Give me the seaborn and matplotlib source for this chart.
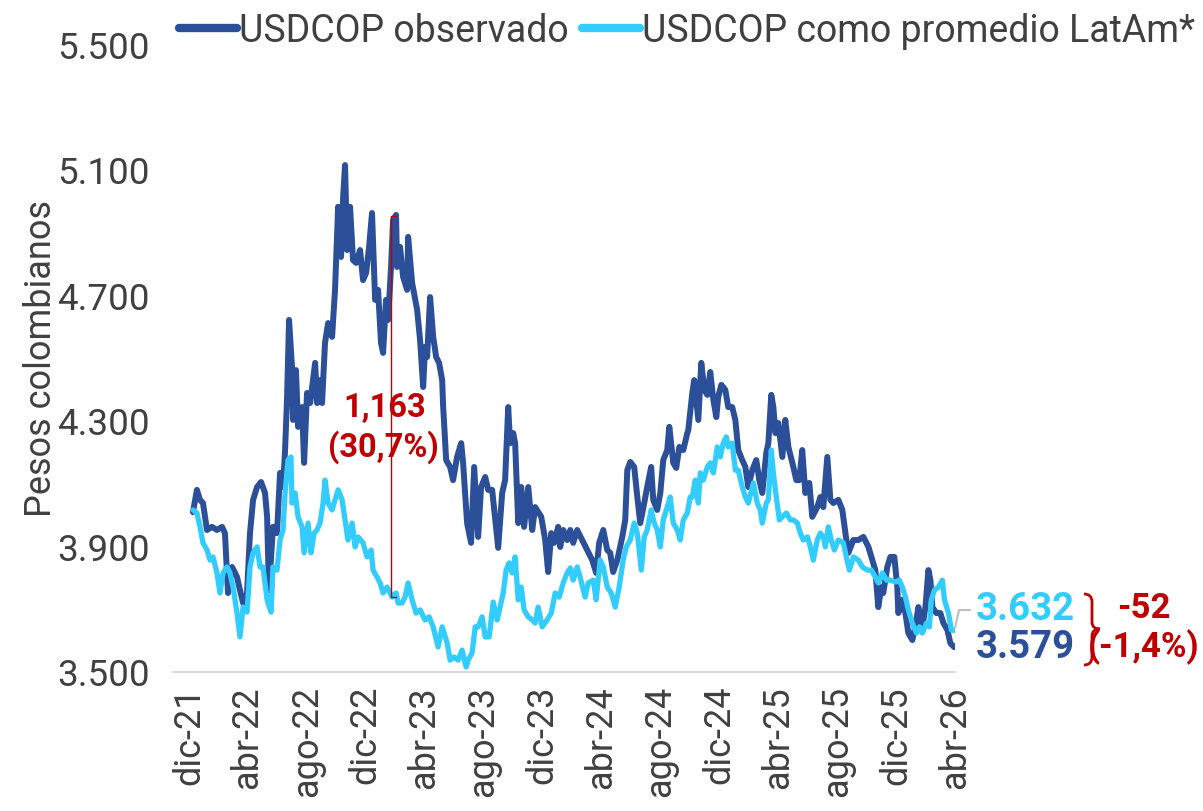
import matplotlib
matplotlib.use("Agg")
import matplotlib.pyplot as plt
from matplotlib.path import Path as MPath
from matplotlib.patches import PathPatch
import seaborn as sns
import numpy as np
import pandas as pd

#%% data (months since 1-dic-2021, COP per USD)
meses_obs = [0.27, 0.54, 0.75, 0.95, 1.22, 1.56, 1.90, 2.24, 2.44, 2.65, 2.92, 3.26, 3.46, 3.67, 3.94,
             4.14, 4.35, 4.62, 4.89, 5.16, 5.30, 5.43, 5.70, 5.97, 6.18, 6.38, 6.52, 6.65, 6.79, 6.99,
             7.06, 7.26, 7.40, 7.67, 7.81, 8.01, 8.22, 8.56, 8.69, 8.89, 9.03, 9.23, 9.44, 9.71, 9.91,
             10.12, 10.32, 10.46, 10.59, 10.73, 10.93, 11.13, 11.34, 11.61, 11.81, 12.02, 12.22, 12.42,
             12.63, 12.83, 13.03, 13.17, 13.37, 13.51, 13.71, 13.85, 14.05, 14.12, 14.32, 14.53, 14.80,
             14.87, 15.14, 15.48, 15.68, 15.89, 16.02, 16.16, 16.36, 16.57, 16.77, 16.97, 17.18, 17.24,
             17.45, 17.72, 17.92, 18.19, 18.47, 18.60, 18.87, 19.14, 19.35, 19.62, 19.82, 20.10, 20.30,
             20.57, 20.98, 21.25, 21.45, 21.66, 21.79, 22.00, 22.13, 22.34, 22.54, 22.74, 23.02, 23.29,
             23.49, 23.90, 24.17, 24.37, 24.58, 24.78, 25.05, 25.19, 25.39, 25.66, 25.87, 26.07, 26.34,
             26.68, 27.02, 27.36, 27.63, 27.83, 28.11, 28.38, 28.58, 28.78, 29.06, 29.40, 29.60, 29.74,
             29.94, 30.21, 30.42, 30.62, 30.89, 31.09, 31.36, 31.50, 31.77, 31.98, 32.18, 32.45, 32.59,
             32.86, 33.06, 33.27, 33.54, 33.81, 33.88, 34.15, 34.28, 34.56, 34.76, 34.97, 35.17, 35.37,
             35.58, 35.78, 35.91, 36.12, 36.39, 36.59, 36.86, 37.07, 37.27, 37.54, 37.75, 37.95, 38.22,
             38.49, 38.70, 38.90, 39.17, 39.31, 39.51, 39.65, 39.79, 39.99, 40.26, 40.46, 40.67, 40.94,
             41.21, 41.41, 41.61, 41.82, 42.09, 42.29, 42.63, 42.84, 43.04, 43.31, 43.52, 43.72, 44.06,
             44.33, 44.54, 44.74, 45.08, 45.42, 45.76, 46.10, 46.37, 46.57, 46.77, 46.98, 47.11, 47.38,
             47.59, 47.86, 48.06, 48.13, 48.40, 48.61, 48.81, 49.08, 49.36, 49.49, 49.76, 49.97, 50.17,
             50.31, 50.44, 50.71, 50.98, 51.19, 51.46, 51.66, 51.93]
usdcop_obs = [4010, 4081, 4049, 4039, 3953, 3963, 3953, 3963, 3943, 3752, 3835, 3803, 3761, 3720, 3752,
              3943, 4049, 4090, 4106, 4071, 3995, 3761, 3963, 3943, 4135, 4090, 4208, 4368, 4623, 4473,
              4304, 4463, 4282, 4345, 4167, 4390, 4358, 4486, 4358, 4431, 4358, 4550, 4613, 4569, 4719,
              4984, 4824, 5016, 5117, 4846, 4984, 4814, 4805, 4846, 4750, 4773, 4856, 4964,
              4687, 4719, 4550, 4518, 4687, 4623, 4792, 4942, 4958, 4792, 4856, 4760, 4719,
              4888, 4741, 4655, 4559, 4409, 4537, 4505, 4696, 4569, 4505, 4486, 4431, 4352,
              4176, 4154, 4112, 4186, 4230, 4167, 3975, 3912, 4154, 3931, 4090, 4122, 4081,
              4081, 3896, 4071, 4112, 4345, 4230, 4262, 4230, 3975, 4090, 3963, 4090, 3953,
              4026, 3995, 3921, 3819, 3943, 3912, 3963, 3899, 3953, 3921, 3953, 3912, 3953,
              3921, 3889, 3857, 3816, 3912, 3953, 3889, 3880, 3819, 3857, 3931, 3985, 4144,
              4170, 4154, 4058, 3975, 4039, 4090, 4154, 4049, 4017, 4071, 4176, 4208, 4282,
              4167, 4151, 4218, 4208, 4262, 4272, 4390, 4431, 4304, 4486, 4400, 4384, 4457,
              4368, 4313, 4377, 4416, 4400, 4345, 4345, 4304, 4208, 4176, 4154, 4090, 4144,
              4176, 4112, 4071, 4199, 4230, 4384, 4345, 4262, 4294, 4186, 4304, 4218, 4167,
              4112, 4112, 4208, 4071, 4103, 3995, 4026, 4058, 4026, 4186, 4049, 4039, 4049,
              4017, 3943, 3880, 3921, 3921, 3931, 3899, 3857, 3825, 3707, 3771, 3752, 3835,
              3867, 3867, 3771, 3688, 3730, 3688, 3624, 3602, 3666, 3707, 3644, 3707, 3825,
              3793, 3707, 3688, 3688, 3656, 3634, 3592, 3579]

meses_latam = [0.27, 0.54, 0.75, 0.95, 1.22, 1.43, 1.63, 1.90, 2.10, 2.31, 2.58, 2.78, 2.99, 3.26, 3.46,
               3.67, 3.94, 4.14, 4.35, 4.62, 4.82, 5.02, 5.30, 5.57, 5.70, 5.97, 6.18, 6.38, 6.52, 6.72,
               6.92, 6.99, 7.20, 7.40, 7.67, 7.81, 8.08, 8.28, 8.49, 8.69, 8.89, 9.10, 9.23, 9.44, 9.71,
               9.91, 10.12, 10.39, 10.59, 10.79, 11.07, 11.27, 11.47, 11.81, 12.08, 12.36, 12.49, 12.76,
               12.97, 13.17, 13.44, 13.78, 14.05, 14.19, 14.46, 14.66, 14.87, 15.14, 15.41, 15.68, 16.02,
               16.29, 16.57, 16.90, 17.18, 17.52, 17.72, 17.99, 18.26, 18.53, 18.81, 18.94, 19.21, 19.42,
               19.62, 19.89, 20.10, 20.37, 20.64, 20.91, 21.11, 21.32, 21.52, 21.72, 21.93, 22.13, 22.34,
               22.54, 22.74, 23.02, 23.29, 23.49, 23.69, 23.97, 24.30, 24.58, 24.85, 25.12, 25.39, 25.66,
               25.87, 26.07, 26.34, 26.54, 26.88, 27.09, 27.43, 27.63, 27.90, 28.11, 28.38, 28.65, 28.92,
               29.19, 29.46, 29.67, 29.94, 30.21, 30.42, 30.69, 30.89, 31.09, 31.36, 31.57, 31.77, 31.98,
               32.18, 32.45, 32.65, 32.86, 33.13, 33.33, 33.54, 33.81, 34.01, 34.15, 34.35, 34.56, 34.69,
               34.90, 35.17, 35.37, 35.58, 35.85, 36.05, 36.25, 36.46, 36.59, 36.86, 37.07, 37.27, 37.54,
               37.75, 37.95, 38.29, 38.56, 38.76, 38.90, 39.17, 39.31, 39.51, 39.65, 39.85, 40.06, 40.26,
               40.53, 40.80, 41.01, 41.28, 41.48, 41.68, 41.96, 42.16, 42.36, 42.63, 42.84, 43.04, 43.18,
               43.38, 43.58, 43.79, 44.06, 44.40, 44.60, 44.81, 45.08, 45.42, 45.69, 46.03, 46.30, 46.57,
               46.77, 47.05, 47.32, 47.59, 47.93, 48.20, 48.40, 48.61, 48.81, 49.08, 49.36, 49.56, 49.76,
               50.04, 50.24, 50.37, 50.58, 50.85, 51.12, 51.26, 51.53, 51.73, 52.00]
usdcop_latam = [4017, 4007, 3963, 3912, 3889, 3857, 3867, 3816, 3752, 3816, 3835, 3816, 3771, 3688, 3612,
                3707, 3691, 3835, 3880, 3899, 3835, 3835, 3730, 3691, 3835, 3825, 3921, 3953, 4071, 4176,
                4186, 4039, 4071, 3995, 3963, 3880, 3975, 3880, 3943, 3953, 3975, 4039, 4112, 4039, 4017,
                4049, 4081, 4049, 3985, 3921, 3975, 3899, 3931, 3912, 3867, 3889, 3825, 3803,
                3784, 3752, 3771, 3739, 3752, 3720, 3720, 3739, 3784, 3730, 3688, 3698, 3666,
                3676, 3644, 3580, 3644, 3592, 3538, 3548, 3538, 3570, 3516, 3538, 3561, 3644,
                3644, 3676, 3612, 3612, 3723, 3666, 3707, 3752, 3825, 3848, 3816, 3867, 3730,
                3771, 3698, 3676, 3666, 3656, 3707, 3644, 3666, 3688, 3752, 3739, 3784, 3816,
                3832, 3793, 3835, 3803, 3739, 3784, 3793, 3730, 3857, 3835, 3771, 3752, 3707,
                3771, 3857, 3899, 3921, 3975, 3943, 3825, 3931, 3953, 4017, 3975, 3953, 3899,
                3985, 4026, 4058, 3975, 3953, 3921, 3985, 4007, 4058, 4058, 4112, 4039, 4135,
                4112, 4154, 4167, 4135, 4218, 4186, 4230, 4250, 4218, 4230, 4144, 4144, 4090,
                4058, 4039, 4103, 4039, 4017, 3975, 4039, 4049, 4208, 4135, 4058, 3985, 3995,
                4007, 3985, 3985, 3975, 3943, 3921, 3931, 3899, 3857, 3921, 3943, 3931, 3899,
                3963, 3921, 3889, 3921, 3912, 3867, 3825, 3867, 3857, 3835, 3825, 3825, 3803,
                3784, 3816, 3793, 3793, 3787, 3793, 3771, 3739, 3698, 3656, 3624, 3644, 3624,
                3656, 3644, 3730, 3761, 3771, 3793, 3730, 3688, 3634, 3632]

serie_obs = "USDCOP observado"
serie_latam = "USDCOP como promedio LatAm*"
meses_es = ["ene", "feb", "mar", "abr", "may", "jun", "jul", "ago", "sep", "oct", "nov", "dic"]
yticks = [3500, 3900, 4300, 4700, 5100, 5500]

brecha_pico = "1,163"
brecha_pico_pct = "(30,7%)"
ultimo_latam = "3.632"
ultimo_obs = "3.579"
brecha_fin = "-52"
brecha_fin_pct = "(-1,4%)"

#%% build frame
base = pd.Timestamp("2021-12-01")
def to_date(m):
    return base + pd.to_timedelta(np.asarray(m) * 30.4375, unit="D")

df = pd.concat([
    pd.DataFrame({"fecha": to_date(meses_obs), "valor": usdcop_obs, "serie": serie_obs}),
    pd.DataFrame({"fecha": to_date(meses_latam), "valor": usdcop_latam, "serie": serie_latam}),
])

#%% style
sns.set_style("white")
plt.rcParams["font.family"] = ["Roboto", "DejaVu Sans"]
c_obs = "#2B4F99"
c_latam = "#33CCFF"
c_red = "#C00000"
W, H = 1203, 811

def fpx(x, y):
    # pixel -> figure fraction
    return x / W, 1 - y / H

fig = plt.figure(figsize=(W / 100, H / 100), dpi=100)
ax = fig.add_axes([173 / W, 1 - 672 / H, (955 - 173) / W, (672 - 45) / H])

sns.lineplot(data=df[df.serie == serie_obs], x="fecha", y="valor", color=c_obs,
             linewidth=4.3, ax=ax, zorder=3, label=serie_obs)
sns.lineplot(data=df[df.serie == serie_latam], x="fecha", y="valor", color=c_latam,
             linewidth=3.8, ax=ax, zorder=4, label=serie_latam)

ax.set_xlim(base - pd.Timedelta(days=33), pd.Timestamp("2026-04-01"))
ax.set_ylim(3500, 5500)

xt = pd.date_range("2021-12-01", "2026-04-01", freq="4MS")
ax.set_xticks(xt)
ax.set_xticklabels([f"{meses_es[d.month - 1]}-{d.year % 100:02d}" for d in xt],
                   rotation=90, fontsize=26, color="#404040")
ax.set_yticks(yticks)
ax.set_yticklabels([f"{v:,}".replace(",", ".") for v in yticks], fontsize=26.5, color="#404040")
ax.tick_params(axis="x", length=0, pad=10)
ax.tick_params(axis="y", length=0, pad=17)
ax.set_xlabel("")
ax.set_ylabel("Pesos colombianos", fontsize=26, color="#404040")
ax.yaxis.set_label_coords((59 - 173) / (955 - 173), 0.5)

for s in ["top", "right", "left"]:
    ax.spines[s].set_visible(False)
ax.spines["bottom"].set_color("#D9D9D9")
ax.spines["bottom"].set_linewidth(1.5)

#%% legend
handles, labels = ax.get_legend_handles_labels()
ax.get_legend().remove()
leg = fig.legend(handles, labels, loc="center left", bbox_to_anchor=fpx(179, 31),
                 ncol=2, frameon=False, fontsize=27, handlelength=1.55, handletextpad=0.06,
                 columnspacing=0.35, borderpad=0, borderaxespad=0)
for t in leg.get_texts():
    t.set_color("#404040")
for h in leg.legend_handles:
    h.set_linewidth(6)

#%% peak gap annotation
x0 = to_date(13.71)
x1 = to_date(14.05)
ax.plot([x1, x0, x0, x1], [4955, 4955, 3740, 3740], color=c_red, lw=1, zorder=5)
ax.text(to_date(13.31), 4342, brecha_pico, color=c_red, fontsize=23.5, fontweight="bold",
        ha="center", va="center", zorder=6)
ax.text(to_date(13.17), 4218, brecha_pico_pct, color=c_red, fontsize=23.5, fontweight="bold",
        ha="center", va="center", zorder=6)

#%% end labels
gx = [fpx(955, 628)[0], fpx(959, 610)[0], fpx(970, 610)[0]]
gy = [fpx(955, 628)[1], fpx(959, 610)[1], fpx(970, 610)[1]]
fig.add_artist(plt.Line2D(gx, gy, color="#BFBFBF", lw=1.5, transform=fig.transFigure))

fig.text(*fpx(976, 609), ultimo_latam, color=c_latam, fontsize=27.5, fontweight="bold",
         ha="left", va="center")
fig.text(*fpx(976, 647), ultimo_obs, color=c_obs, fontsize=27.5, fontweight="bold",
         ha="left", va="center")

# curly brace
bp = [(1084, 594), (1092, 594), (1092, 602), (1092, 622), (1092, 629), (1100, 629),
      (1092, 629), (1092, 636), (1092, 657), (1092, 665), (1084, 665)]
codes = [MPath.MOVETO, MPath.CURVE3, MPath.CURVE3, MPath.LINETO, MPath.CURVE3, MPath.CURVE3,
         MPath.CURVE3, MPath.CURVE3, MPath.LINETO, MPath.CURVE3, MPath.CURVE3]
brace = MPath([fpx(*p) for p in bp], codes)
fig.add_artist(PathPatch(brace, facecolor="none", edgecolor=c_red, lw=2,
                         transform=fig.transFigure))

fig.text(*fpx(1144, 608), brecha_fin, color=c_red, fontsize=25, fontweight="bold",
         ha="center", va="center")
fig.text(*fpx(1144, 647), brecha_fin_pct, color=c_red, fontsize=25, fontweight="bold",
         ha="center", va="center")

fig.savefig("out.png", dpi=100)
